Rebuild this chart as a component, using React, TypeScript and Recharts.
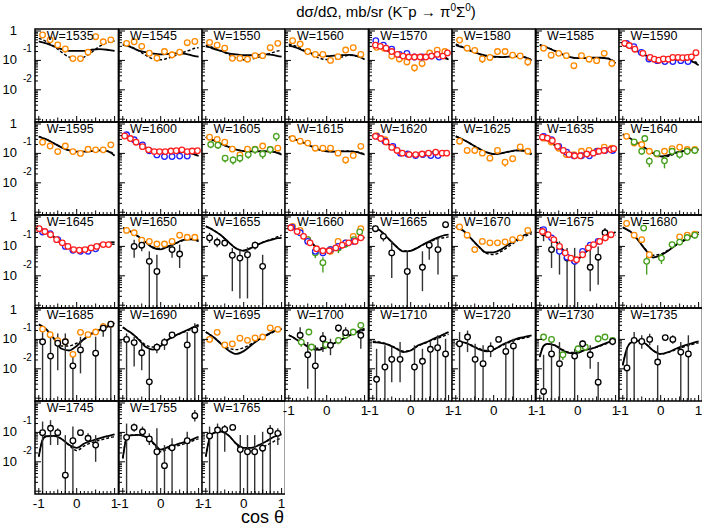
import React from "react";
import { ComposedChart, Line, Scatter, ErrorBar, XAxis, YAxis, ReferenceArea } from "recharts";

const energies = [
  1535, 1545, 1550, 1560, 1570, 1580, 1585, 1590,
  1595, 1600, 1605, 1615, 1620, 1625, 1635, 1640,
  1645, 1650, 1655, 1660, 1665, 1670, 1675, 1680,
  1685, 1690, 1695, 1700, 1710, 1720, 1730, 1735,
  1745, 1755, 1765,
];

// cos(theta) nodes where the model curves were read
const curveX = [-1, -0.9, -0.8, -0.6, -0.4, -0.2, 0, 0.2, 0.4, 0.6, 0.8, 0.9, 1];

// solid model curve, one row per energy (mb/sr)
const solidCurves = [
  [0.44, 0.41, 0.38, 0.30, 0.24, 0.21, 0.21, 0.21, 0.23, 0.24, 0.23, 0.22, 0.21],
  [0.34, 0.32, 0.29, 0.22, 0.19, 0.17, 0.16, 0.166, 0.174, 0.17, 0.15, 0.14, 0.135],
  [0.30, 0.28, 0.25, 0.21, 0.174, 0.16, 0.15, 0.15, 0.155, 0.16, 0.15, 0.14, 0.135],
  [0.32, 0.30, 0.27, 0.21, 0.174, 0.15, 0.14, 0.145, 0.15, 0.155, 0.14, 0.126, 0.107],
  [0.32, 0.29, 0.26, 0.21, 0.16, 0.14, 0.135, 0.135, 0.138, 0.138, 0.13, 0.12, 0.107],
  [0.33, 0.30, 0.275, 0.21, 0.17, 0.145, 0.135, 0.13, 0.135, 0.138, 0.13, 0.118, 0.10],
  [0.33, 0.30, 0.27, 0.21, 0.16, 0.13, 0.12, 0.12, 0.123, 0.123, 0.115, 0.10, 0.08],
  [0.33, 0.30, 0.27, 0.20, 0.148, 0.118, 0.105, 0.102, 0.105, 0.105, 0.095, 0.083, 0.069],
  [0.37, 0.33, 0.30, 0.22, 0.16, 0.126, 0.115, 0.115, 0.12, 0.126, 0.12, 0.105, 0.083],
  [0.39, 0.35, 0.30, 0.22, 0.16, 0.126, 0.115, 0.112, 0.112, 0.11, 0.10, 0.091, 0.083],
  [0.355, 0.32, 0.28, 0.21, 0.166, 0.135, 0.12, 0.118, 0.118, 0.118, 0.112, 0.102, 0.091],
  [0.355, 0.32, 0.29, 0.23, 0.174, 0.135, 0.118, 0.115, 0.118, 0.118, 0.11, 0.10, 0.091],
  [0.44, 0.38, 0.32, 0.21, 0.145, 0.107, 0.095, 0.098, 0.107, 0.11, 0.107, 0.10, 0.091],
  [0.38, 0.33, 0.29, 0.21, 0.148, 0.11, 0.095, 0.10, 0.115, 0.126, 0.123, 0.11, 0.091],
  [0.38, 0.33, 0.28, 0.19, 0.135, 0.095, 0.079, 0.083, 0.095, 0.112, 0.12, 0.118, 0.118],
  [0.44, 0.38, 0.32, 0.22, 0.15, 0.105, 0.079, 0.087, 0.107, 0.12, 0.13, 0.135, 0.135],
  [0.45, 0.38, 0.32, 0.21, 0.138, 0.093, 0.076, 0.083, 0.10, 0.118, 0.13, 0.138, 0.14],
  [0.43, 0.38, 0.32, 0.22, 0.14, 0.089, 0.079, 0.10, 0.13, 0.166, 0.174, 0.166, 0.148],
  [0.48, 0.42, 0.355, 0.24, 0.14, 0.085, 0.071, 0.089, 0.12, 0.15, 0.178, 0.19, 0.195],
  [0.48, 0.42, 0.355, 0.22, 0.13, 0.083, 0.078, 0.093, 0.112, 0.135, 0.166, 0.186, 0.204],
  [0.48, 0.42, 0.34, 0.19, 0.105, 0.068, 0.071, 0.093, 0.13, 0.174, 0.22, 0.24, 0.25],
  [0.48, 0.42, 0.34, 0.186, 0.10, 0.063, 0.063, 0.079, 0.118, 0.166, 0.24, 0.275, 0.31],
  [0.43, 0.37, 0.30, 0.16, 0.079, 0.042, 0.038, 0.063, 0.107, 0.16, 0.224, 0.26, 0.31],
  [0.45, 0.38, 0.32, 0.166, 0.076, 0.042, 0.05, 0.071, 0.112, 0.16, 0.224, 0.26, 0.31],
  [0.33, 0.275, 0.22, 0.105, 0.048, 0.042, 0.06, 0.105, 0.16, 0.21, 0.28, 0.32, 0.355],
  [0.26, 0.21, 0.174, 0.105, 0.056, 0.045, 0.06, 0.10, 0.138, 0.18, 0.24, 0.275, 0.31],
  [0.178, 0.148, 0.12, 0.071, 0.042, 0.032, 0.04, 0.063, 0.10, 0.14, 0.19, 0.21, 0.234],
  [0.138, 0.12, 0.10, 0.068, 0.048, 0.044, 0.056, 0.074, 0.10, 0.138, 0.18, 0.21, 0.234],
  [0.081, 0.079, 0.076, 0.066, 0.05, 0.037, 0.042, 0.063, 0.079, 0.105, 0.135, 0.155, 0.178],
  [0.066, 0.079, 0.079, 0.063, 0.047, 0.039, 0.045, 0.063, 0.083, 0.105, 0.12, 0.13, 0.138],
  [0.025, 0.06, 0.071, 0.063, 0.043, 0.034, 0.035, 0.044, 0.05, 0.063, 0.079, 0.089, 0.10],
  [0.013, 0.045, 0.076, 0.091, 0.071, 0.042, 0.032, 0.037, 0.048, 0.06, 0.072, 0.079, 0.085],
  [0.015, 0.056, 0.074, 0.076, 0.06, 0.038, 0.03, 0.042, 0.052, 0.063, 0.074, 0.079, 0.085],
  [0.013, 0.063, 0.079, 0.083, 0.071, 0.045, 0.026, 0.032, 0.038, 0.046, 0.055, 0.063, 0.071],
  [0.015, 0.063, 0.095, 0.107, 0.079, 0.042, 0.03, 0.03, 0.037, 0.05, 0.071, 0.079, 0.085],
];

// dashed model curve
const dashedCurves = [
  [0.56, 0.50, 0.44, 0.30, 0.19, 0.13, 0.11, 0.13, 0.19, 0.30, 0.40, 0.43, 0.46],
  [0.36, 0.33, 0.30, 0.22, 0.15, 0.112, 0.105, 0.12, 0.148, 0.19, 0.23, 0.26, 0.27],
  [0.33, 0.30, 0.27, 0.21, 0.16, 0.12, 0.105, 0.11, 0.13, 0.16, 0.19, 0.21, 0.22],
  [0.36, 0.33, 0.30, 0.22, 0.16, 0.12, 0.107, 0.112, 0.13, 0.15, 0.14, 0.13, 0.126],
  [0.355, 0.32, 0.28, 0.21, 0.16, 0.13, 0.126, 0.129, 0.135, 0.138, 0.135, 0.126, 0.112],
  [0.355, 0.32, 0.28, 0.21, 0.165, 0.14, 0.13, 0.13, 0.135, 0.138, 0.13, 0.12, 0.105],
  [0.34, 0.31, 0.275, 0.21, 0.16, 0.13, 0.12, 0.12, 0.123, 0.123, 0.118, 0.105, 0.089],
  [0.34, 0.31, 0.28, 0.20, 0.15, 0.118, 0.105, 0.102, 0.105, 0.107, 0.10, 0.09, 0.076],
  [0.38, 0.34, 0.30, 0.22, 0.16, 0.125, 0.115, 0.115, 0.12, 0.126, 0.122, 0.11, 0.09],
  [0.40, 0.36, 0.31, 0.22, 0.16, 0.126, 0.115, 0.112, 0.112, 0.11, 0.102, 0.095, 0.088],
  [0.36, 0.32, 0.28, 0.21, 0.165, 0.135, 0.12, 0.118, 0.118, 0.118, 0.114, 0.106, 0.095],
  [0.36, 0.33, 0.29, 0.23, 0.174, 0.135, 0.118, 0.115, 0.118, 0.12, 0.113, 0.105, 0.096],
  [0.45, 0.39, 0.32, 0.21, 0.145, 0.107, 0.095, 0.097, 0.105, 0.11, 0.11, 0.105, 0.097],
  [0.39, 0.34, 0.29, 0.21, 0.148, 0.11, 0.095, 0.10, 0.114, 0.125, 0.125, 0.115, 0.098],
  [0.39, 0.34, 0.29, 0.19, 0.135, 0.095, 0.08, 0.084, 0.097, 0.112, 0.12, 0.12, 0.12],
  [0.45, 0.39, 0.32, 0.22, 0.15, 0.10, 0.076, 0.08, 0.10, 0.118, 0.13, 0.135, 0.138],
  [0.45, 0.38, 0.32, 0.21, 0.138, 0.093, 0.076, 0.082, 0.097, 0.112, 0.12, 0.12, 0.118],
  [0.42, 0.37, 0.32, 0.22, 0.14, 0.095, 0.085, 0.098, 0.125, 0.16, 0.18, 0.18, 0.17],
  [0.49, 0.43, 0.36, 0.24, 0.14, 0.087, 0.074, 0.09, 0.12, 0.155, 0.19, 0.215, 0.24],
  [0.48, 0.42, 0.355, 0.22, 0.13, 0.085, 0.08, 0.093, 0.11, 0.13, 0.158, 0.175, 0.19],
  [0.47, 0.41, 0.34, 0.19, 0.105, 0.07, 0.072, 0.092, 0.125, 0.16, 0.19, 0.20, 0.21],
  [0.45, 0.40, 0.33, 0.186, 0.10, 0.058, 0.053, 0.068, 0.10, 0.15, 0.21, 0.24, 0.27],
  [0.43, 0.37, 0.30, 0.16, 0.079, 0.042, 0.04, 0.063, 0.10, 0.15, 0.20, 0.22, 0.24],
  [0.44, 0.37, 0.31, 0.16, 0.08, 0.05, 0.055, 0.075, 0.11, 0.15, 0.20, 0.23, 0.26],
  [0.31, 0.26, 0.21, 0.11, 0.06, 0.06, 0.074, 0.10, 0.15, 0.20, 0.26, 0.29, 0.32],
  [0.25, 0.21, 0.17, 0.11, 0.065, 0.055, 0.07, 0.10, 0.135, 0.175, 0.22, 0.25, 0.28],
  [0.178, 0.148, 0.12, 0.074, 0.05, 0.045, 0.052, 0.07, 0.10, 0.135, 0.18, 0.20, 0.22],
  [0.14, 0.12, 0.10, 0.07, 0.052, 0.05, 0.06, 0.076, 0.10, 0.135, 0.17, 0.19, 0.21],
  [0.087, 0.084, 0.08, 0.068, 0.052, 0.04, 0.043, 0.06, 0.076, 0.097, 0.12, 0.135, 0.15],
  [0.07, 0.08, 0.079, 0.065, 0.05, 0.042, 0.046, 0.06, 0.078, 0.097, 0.11, 0.118, 0.125],
  [0.028, 0.06, 0.07, 0.063, 0.045, 0.036, 0.037, 0.045, 0.05, 0.06, 0.075, 0.085, 0.095],
  [0.014, 0.045, 0.075, 0.09, 0.07, 0.042, 0.032, 0.036, 0.045, 0.055, 0.066, 0.072, 0.076],
  [0.015, 0.056, 0.074, 0.076, 0.06, 0.036, 0.024, 0.035, 0.045, 0.054, 0.063, 0.068, 0.071],
  [0.013, 0.063, 0.079, 0.083, 0.07, 0.042, 0.022, 0.028, 0.034, 0.04, 0.048, 0.055, 0.06],
  [0.015, 0.063, 0.095, 0.107, 0.079, 0.04, 0.022, 0.023, 0.028, 0.036, 0.05, 0.058, 0.066],
];

// measured points: [cos, dsigma, error]
const orangePts: Record<number, number[][]> = {
  1535: [[-0.9, 0.73, 0.08], [-0.7, 0.5, 0.1], [-0.5, 0.335, 0.05], [-0.3, 0.245, 0.06], [-0.1, 0.115, 0.015], [0.1, 0.115, 0.015], [0.3, 0.19, 0.04], [0.5, 0.64, 0.06], [0.7, 0.43, 0.08], [0.9, 0.5, 0.08]],
  1545: [[-0.9, 0.38, 0.04], [-0.7, 0.43, 0.05], [-0.5, 0.3, 0.04], [-0.3, 0.175, 0.025], [-0.1, 0.12, 0.03], [0.1, 0.2, 0.025], [0.3, 0.155, 0.04], [0.5, 0.19, 0.04], [0.7, 0.4, 0.04], [0.9, 0.44, 0.05]],
  1550: [[-0.9, 0.41, 0.04], [-0.7, 0.33, 0.035], [-0.5, 0.26, 0.03], [-0.3, 0.118, 0.015], [-0.1, 0.118, 0.02], [0.1, 0.11, 0.02], [0.3, 0.145, 0.03], [0.5, 0.145, 0.03], [0.7, 0.27, 0.03], [0.9, 0.38, 0.04]],
  1560: [[-0.9, 0.47, 0.05], [-0.7, 0.36, 0.04], [-0.5, 0.2, 0.025], [-0.3, 0.16, 0.02], [-0.1, 0.16, 0.02], [0.1, 0.1, 0.02], [0.3, 0.134, 0.025], [0.5, 0.225, 0.03], [0.7, 0.27, 0.04], [0.9, 0.16, 0.03]],
  1570: [[-0.9, 0.28, 0.04], [-0.7, 0.26, 0.04], [-0.5, 0.14, 0.03], [-0.3, 0.112, 0.025], [-0.1, 0.089, 0.02], [0.1, 0.056, 0.015], [0.3, 0.079, 0.02], [0.5, 0.178, 0.03], [0.7, 0.224, 0.04], [0.9, 0.2, 0.04]],
  1580: [[-0.9, 0.49, 0.04], [-0.7, 0.26, 0.03], [-0.5, 0.22, 0.03], [-0.3, 0.112, 0.03], [-0.1, 0.126, 0.025], [0.1, 0.2, 0.025], [0.3, 0.2, 0.025], [0.5, 0.15, 0.025], [0.7, 0.141, 0.025], [0.9, 0.089, 0.025]],
  1585: [[-0.9, 0.26, 0.025], [-0.7, 0.15, 0.02], [-0.5, 0.174, 0.02], [-0.3, 0.145, 0.02], [-0.1, 0.066, 0.015], [0.1, 0.145, 0.02], [0.3, 0.11, 0.02], [0.5, 0.098, 0.02], [0.7, 0.174, 0.025], [0.9, 0.079, 0.02]],
  1595: [[-0.9, 0.24, 0.03], [-0.7, 0.178, 0.025], [-0.5, 0.115, 0.025], [-0.3, 0.178, 0.025], [-0.1, 0.115, 0.02], [0.1, 0.1, 0.02], [0.3, 0.138, 0.02], [0.5, 0.132, 0.02], [0.7, 0.132, 0.02], [0.9, 0.195, 0.025]],
  1605: [[-0.9, 0.355, 0.04], [-0.7, 0.3, 0.035], [-0.5, 0.24, 0.03], [-0.3, 0.14, 0.025], [-0.1, 0.089, 0.02], [0.1, 0.14, 0.025], [0.3, 0.14, 0.025], [0.5, 0.178, 0.03], [0.7, 0.135, 0.025], [0.9, 0.15, 0.03]],
  1615: [[-0.9, 0.32, 0.03], [-0.7, 0.26, 0.025], [-0.5, 0.224, 0.02], [-0.3, 0.15, 0.02], [-0.1, 0.15, 0.02], [0.1, 0.15, 0.02], [0.3, 0.102, 0.015], [0.5, 0.06, 0.015], [0.7, 0.085, 0.015], [0.9, 0.174, 0.02]],
  1620: [[-0.9, 0.4, 0.03], [-0.68, 0.29, 0.03]],
  1625: [[-0.9, 0.26, 0.03], [-0.7, 0.126, 0.02], [-0.5, 0.126, 0.02], [-0.3, 0.102, 0.02], [-0.1, 0.069, 0.015], [0.1, 0.126, 0.02], [0.3, 0.05, 0.015], [0.5, 0.066, 0.015], [0.7, 0.166, 0.025], [0.9, 0.118, 0.02]],
  1635: [[-0.9, 0.33, 0.03], [-0.7, 0.245, 0.025], [-0.5, 0.15, 0.02], [-0.3, 0.091, 0.015], [-0.1, 0.091, 0.015], [0.1, 0.118, 0.02], [0.3, 0.126, 0.02], [0.5, 0.118, 0.02], [0.7, 0.162, 0.03], [0.9, 0.15, 0.04]],
  1640: [[-0.9, 0.38, 0.03], [-0.7, 0.224, 0.025], [-0.5, 0.2, 0.025], [-0.3, 0.118, 0.02], [-0.1, 0.095, 0.02], [0.1, 0.118, 0.02], [0.3, 0.145, 0.02], [0.5, 0.162, 0.025], [0.7, 0.135, 0.02], [0.9, 0.135, 0.025]],
  1650: [[-0.9, 0.35, 0.04], [-0.7, 0.29, 0.03], [-0.5, 0.162, 0.02], [-0.3, 0.148, 0.02], [-0.1, 0.12, 0.015], [0.1, 0.12, 0.015], [0.3, 0.148, 0.02], [0.5, 0.24, 0.03], [0.7, 0.204, 0.025], [0.9, 0.204, 0.03]],
  1660: [[-0.9, 0.48, 0.04], [-0.7, 0.35, 0.03], [-0.5, 0.17, 0.02], [-0.3, 0.068, 0.01], [-0.1, 0.065, 0.01], [0.1, 0.068, 0.01], [0.3, 0.148, 0.02], [0.5, 0.132, 0.02], [0.7, 0.22, 0.03], [0.9, 0.4, 0.05]],
  1670: [[-0.9, 0.46, 0.04], [-0.7, 0.24, 0.03], [-0.5, 0.078, 0.015], [-0.3, 0.148, 0.02], [-0.1, 0.132, 0.02], [0.1, 0.132, 0.02], [0.3, 0.141, 0.02], [0.5, 0.17, 0.02], [0.7, 0.195, 0.025], [0.9, 0.35, 0.04]],
  1680: [[-0.9, 0.6, 0.05], [-0.7, 0.24, 0.03], [-0.5, 0.17, 0.025], [-0.3, 0.052, 0.012], [0.5, 0.21, 0.03], [0.7, 0.24, 0.03], [0.9, 0.26, 0.035]],
  1685: [[-0.9, 0.224, 0.03], [-0.7, 0.145, 0.02], [-0.5, 0.091, 0.015], [-0.3, 0.083, 0.015], [-0.1, 0.031, 0.008], [0.1, 0.174, 0.02], [0.3, 0.145, 0.02], [0.5, 0.178, 0.02], [0.7, 0.27, 0.03], [0.9, 0.33, 0.04]],
  1695: [[-0.9, 0.1, 0.02], [-0.7, 0.174, 0.025], [-0.5, 0.065, 0.012], [-0.3, 0.07, 0.012], [-0.1, 0.11, 0.018], [0.1, 0.093, 0.015], [0.3, 0.112, 0.018], [0.5, 0.12, 0.02], [0.7, 0.245, 0.03], [0.9, 0.22, 0.03]],
};

const bluePts: Record<number, number[][]> = {
  1570: [[-0.92, 0.47, 0.04], [-0.72, 0.33, 0.03], [-0.5, 0.24, 0.02], [-0.3, 0.16, 0.015], [-0.1, 0.174, 0.015], [0.1, 0.13, 0.012], [0.3, 0.13, 0.012], [0.55, 0.14, 0.015], [0.75, 0.13, 0.015]],
  1590: [[-0.9, 0.38, 0.03], [-0.71, 0.295, 0.02], [-0.51, 0.186, 0.015], [-0.31, 0.112, 0.01], [-0.09, 0.098, 0.01], [0.11, 0.091, 0.01], [0.32, 0.091, 0.01], [0.53, 0.098, 0.01], [0.72, 0.091, 0.015]],
  1600: [[-0.9, 0.43, 0.03], [-0.7, 0.29, 0.02], [-0.48, 0.195, 0.015], [-0.3, 0.123, 0.01], [-0.1, 0.089, 0.008], [0.1, 0.078, 0.008], [0.3, 0.078, 0.008], [0.5, 0.081, 0.008], [0.7, 0.081, 0.01]],
  1620: [[-0.9, 0.38, 0.03], [-0.68, 0.26, 0.02], [-0.47, 0.174, 0.015], [-0.27, 0.102, 0.01], [-0.08, 0.095, 0.01], [0.13, 0.085, 0.01], [0.32, 0.091, 0.01], [0.53, 0.085, 0.01], [0.72, 0.085, 0.01]],
  1635: [[-0.9, 0.38, 0.03], [-0.69, 0.295, 0.025], [-0.5, 0.174, 0.015], [-0.29, 0.11, 0.01], [-0.1, 0.083, 0.01], [0.1, 0.083, 0.01], [0.31, 0.083, 0.01], [0.52, 0.118, 0.012], [0.72, 0.126, 0.012], [0.92, 0.126, 0.015]],
  1645: [[-0.9, 0.31, 0.025], [-0.7, 0.27, 0.02], [-0.5, 0.17, 0.015], [-0.3, 0.1, 0.01], [-0.1, 0.074, 0.008], [0.1, 0.068, 0.008], [0.3, 0.068, 0.008], [0.5, 0.083, 0.01]],
  1660: [[-0.92, 0.45, 0.03], [-0.7, 0.29, 0.02], [-0.5, 0.148, 0.015], [-0.3, 0.068, 0.008], [-0.1, 0.06, 0.008], [0.1, 0.078, 0.008], [0.31, 0.1, 0.01], [0.5, 0.132, 0.012], [0.72, 0.148, 0.015]],
  1675: [[-0.9, 0.37, 0.03], [-0.69, 0.195, 0.02], [-0.48, 0.068, 0.008], [-0.28, 0.043, 0.006], [-0.08, 0.031, 0.005], [0.13, 0.068, 0.008], [0.33, 0.11, 0.01], [0.54, 0.148, 0.015]],
};

const redPts: Record<number, number[][]> = {
  1570: [[-0.93, 0.33, 0.03], [-0.8, 0.3, 0.03], [-0.65, 0.26, 0.025], [-0.5, 0.2, 0.02], [-0.35, 0.16, 0.015], [-0.2, 0.14, 0.015], [-0.05, 0.13, 0.015], [0.1, 0.13, 0.015], [0.25, 0.13, 0.015], [0.4, 0.13, 0.015], [0.55, 0.14, 0.015], [0.7, 0.16, 0.02], [0.85, 0.14, 0.02], [0.97, 0.18, 0.04]],
  1590: [[-0.95, 0.38, 0.02], [-0.83, 0.32, 0.02], [-0.68, 0.24, 0.015], [-0.47, 0.174, 0.012], [-0.28, 0.126, 0.01], [-0.17, 0.11, 0.01], [-0.05, 0.102, 0.01], [0.07, 0.112, 0.01], [0.2, 0.11, 0.01], [0.32, 0.126, 0.01], [0.46, 0.126, 0.01], [0.58, 0.123, 0.01], [0.7, 0.126, 0.01], [0.81, 0.132, 0.012], [0.93, 0.182, 0.03]],
  1600: [[-0.95, 0.39, 0.02], [-0.8, 0.32, 0.02], [-0.65, 0.24, 0.015], [-0.48, 0.17, 0.012], [-0.32, 0.132, 0.01], [-0.17, 0.115, 0.01], [-0.03, 0.115, 0.01], [0.12, 0.115, 0.01], [0.27, 0.12, 0.01], [0.41, 0.123, 0.01], [0.56, 0.132, 0.01], [0.7, 0.115, 0.01], [0.83, 0.12, 0.012], [0.97, 0.123, 0.015]],
  1620: [[-0.93, 0.38, 0.02], [-0.79, 0.32, 0.02], [-0.65, 0.245, 0.015], [-0.5, 0.16, 0.012], [-0.36, 0.126, 0.01], [-0.22, 0.102, 0.01], [-0.04, 0.091, 0.01], [0.13, 0.091, 0.01], [0.3, 0.095, 0.01], [0.47, 0.102, 0.01], [0.66, 0.11, 0.01], [0.83, 0.102, 0.012], [0.95, 0.102, 0.02]],
  1635: [[-0.93, 0.355, 0.02], [-0.8, 0.33, 0.02], [-0.67, 0.27, 0.02], [-0.53, 0.174, 0.015], [-0.38, 0.126, 0.01], [-0.23, 0.091, 0.01], [-0.08, 0.083, 0.01], [0.07, 0.083, 0.01], [0.24, 0.095, 0.01], [0.41, 0.102, 0.01], [0.56, 0.118, 0.012], [0.7, 0.126, 0.012], [0.87, 0.135, 0.02], [0.95, 0.145, 0.03]],
  1645: [[-0.99, 0.4, 0.03], [-0.84, 0.32, 0.02], [-0.69, 0.25, 0.02], [-0.53, 0.17, 0.015], [-0.38, 0.132, 0.012], [-0.23, 0.1, 0.01], [-0.08, 0.078, 0.008], [0.07, 0.074, 0.008], [0.22, 0.078, 0.008], [0.38, 0.089, 0.01], [0.53, 0.1, 0.01], [0.7, 0.115, 0.012], [0.84, 0.115, 0.012]],
  1660: [[-0.95, 0.43, 0.03], [-0.78, 0.32, 0.02], [-0.61, 0.22, 0.02], [-0.44, 0.132, 0.012], [-0.27, 0.083, 0.01], [-0.1, 0.071, 0.008], [0.07, 0.071, 0.008], [0.24, 0.089, 0.01], [0.41, 0.11, 0.01], [0.58, 0.132, 0.012], [0.75, 0.148, 0.015], [0.9, 0.195, 0.02]],
  1675: [[-0.93, 0.32, 0.03], [-0.78, 0.25, 0.02], [-0.63, 0.17, 0.015], [-0.48, 0.1, 0.01], [-0.33, 0.06, 0.008], [-0.18, 0.04, 0.006], [-0.03, 0.035, 0.005], [0.13, 0.052, 0.007], [0.28, 0.089, 0.01], [0.42, 0.115, 0.012], [0.58, 0.148, 0.015], [0.73, 0.195, 0.02], [0.88, 0.25, 0.03]],
};

const greenPts: Record<number, number[][]> = {
  1605: [[-0.87, 0.2, 0.05], [-0.68, 0.19, 0.05], [-0.49, 0.069, 0.02], [-0.28, 0.06, 0.018], [-0.1, 0.069, 0.02], [0.12, 0.091, 0.025], [0.3, 0.135, 0.04], [0.5, 0.095, 0.03], [0.7, 0.135, 0.04], [0.86, 0.38, 0.12]],
  1640: [[-0.7, 0.245, 0.05], [-0.5, 0.118, 0.03], [-0.42, 0.32, 0.06], [-0.3, 0.054, 0.02], [-0.1, 0.1, 0.025], [0.1, 0.056, 0.025], [0.3, 0.118, 0.03], [0.5, 0.091, 0.025], [0.7, 0.118, 0.03], [0.9, 0.126, 0.03]],
  1660: [[-0.5, 0.17, 0.04], [-0.3, 0.06, 0.02], [-0.1, 0.028, 0.015], [0.1, 0.078, 0.025], [0.31, 0.089, 0.03], [0.5, 0.12, 0.03], [0.72, 0.17, 0.04], [0.87, 0.31, 0.08]],
  1680: [[-0.45, 0.42, 0.08], [-0.37, 0.031, 0.02], [0.02, 0.04, 0.015], [0.3, 0.115, 0.03], [0.5, 0.14, 0.03], [0.7, 0.2, 0.04], [0.9, 0.24, 0.05]],
  1700: [[-0.67, 0.081, 0.025], [-0.47, 0.178, 0.04], [-0.4, 0.055, 0.015], [-0.02, 0.066, 0.02], [0.31, 0.093, 0.025], [0.5, 0.138, 0.03], [0.7, 0.178, 0.04], [0.9, 0.3, 0.06]],
  1730: [[-0.9, 0.12, 0.03], [-0.69, 0.1, 0.025], [-0.39, 0.03, 0.01], [0.01, 0.048, 0.012], [0.2, 0.055, 0.015], [0.54, 0.105, 0.025], [0.72, 0.12, 0.025], [0.92, 0.093, 0.02]],
};

// black points: [cos, dsigma, lower end, upper end]; lower end 0 = runs off the bottom
const blackPts: Record<number, number[][]> = {
  1650: [[-0.7, 0.1, 0.041, 0.17], [-0.5, 0.11, 0.068, 0.17], [-0.3, 0.031, 0, 0.068], [-0.1, 0.014, 0, 0.052], [0.3, 0.078, 0.041, 0.13], [0.5, 0.055, 0.0185, 0.115]],
  1655: [[-0.9, 0.195, 0.13, 0.29], [-0.7, 0.138, 0.093, 0.2], [-0.5, 0.13, 0.11, 0.17], [-0.3, 0.05, 0.003, 0.089], [-0.1, 0.04, 0.0017, 0.078], [0.1, 0.052, 0.0017, 0.093], [0.3, 0.11, 0.078, 0.148], [0.5, 0.021, 0.00105, 0.052]],
  1665: [[-0.93, 0.4, 0.31, 0.52], [-0.72, 0.22, 0.148, 0.31], [-0.5, 0.06, 0.0085, 0.148], [-0.09, 0.014, 0, 0.068], [0.31, 0.0195, 0.003, 0.068], [0.49, 0.11, 0.035, 0.148], [0.72, 0.078, 0.011, 0.17], [0.92, 0.55, 0.42, 0.71]],
  1675: [[-0.9, 0.29, 0.15, 0.42], [-0.69, 0.078, 0.0185, 0.17], [-0.48, 0.071, 0.011, 0.148], [-0.28, 0.04, 0, 0.089], [-0.08, 0.032, 0, 0.089], [0.33, 0.0195, 0.003, 0.089], [0.54, 0.043, 0.005, 0.1], [0.72, 0.29, 0.15, 0.42]],
  1685: [[-0.9, 0.083, 0, 0.18], [-0.69, 0.027, 0, 0.18], [-0.5, 0.074, 0.009, 0.16], [-0.3, 0.083, 0, 0.16], [-0.1, 0.0126, 0, 0.034], [0.1, 0.044, 0.007, 0.123], [0.5, 0.034, 0, 0.123], [0.7, 0.24, 0.123, 0.355], [0.9, 0.33, 0, 0.4]],
  1690: [[-0.9, 0.1, 0, 0.16], [-0.7, 0.078, 0.012, 0.123], [-0.5, 0.035, 0.009, 0.074], [-0.3, 0.0036, 0, 0.044], [-0.1, 0.054, 0.034, 0.074], [0.1, 0.079, 0.044, 0.11], [0.3, 0.141, 0.11, 0.18], [0.7, 0.065, 0, 0.18], [0.9, 0.21, 0, 0.355]],
  1700: [[-0.7, 0.138, 0.071, 0.26], [-0.5, 0.03, 0.0021, 0.081], [-0.3, 0.0126, 0, 0.063], [-0.1, 0.105, 0.037, 0.178], [0.1, 0.063, 0.029, 0.105], [0.31, 0.245, 0.178, 0.32], [0.5, 0.17, 0.105, 0.26], [0.9, 0.138, 0.048, 0.3]],
  1710: [[-0.9, 0.0044, 0, 0.048], [-0.68, 0.0115, 0, 0.063], [-0.5, 0.021, 0.0035, 0.055], [-0.28, 0.021, 0.0035, 0.081], [0.1, 0.0115, 0, 0.063], [0.31, 0.018, 0, 0.048], [0.52, 0.046, 0, 0.081], [0.71, 0.052, 0, 0.138], [0.92, 0.032, 0, 0.105]],
  1720: [[-0.9, 0.071, 0, 0.178], [-0.69, 0.12, 0.037, 0.2], [-0.49, 0.021, 0, 0.071], [-0.28, 0.015, 0, 0.063], [-0.08, 0.048, 0.025, 0.08], [0.13, 0.1, 0.081, 0.12], [0.32, 0.039, 0, 0.081], [0.52, 0.06, 0, 0.105]],
  1730: [[-0.9, 0.0017, 0, 0.03], [-0.69, 0.032, 0, 0.105], [-0.48, 0.015, 0, 0.081], [-0.08, 0.027, 0, 0.048], [0.13, 0.071, 0.048, 0.093], [0.33, 0.03, 0.01, 0.063], [0.54, 0.0035, 0, 0.017], [0.92, 0.085, 0.063, 0.12]],
  1735: [[-0.89, 0.0107, 0, 0.048], [-0.7, 0.093, 0, 0.178], [-0.5, 0.085, 0.048, 0.138], [-0.29, 0.1, 0.063, 0.155], [-0.08, 0.017, 0, 0.063], [0.12, 0.115, 0.093, 0.138], [0.32, 0.1, 0.071, 0.138], [0.53, 0.037, 0, 0.081], [0.73, 0.032, 0, 0.138]],
  1745: [[-0.9, 0.098, 0, 0.234], [-0.69, 0.138, 0.037, 0.26], [-0.5, 0.098, 0.037, 0.138], [-0.3, 0.0035, 0, 0.081], [-0.1, 0.052, 0, 0.158], [0.1, 0.098, 0.081, 0.12], [0.3, 0.063, 0.043, 0.093], [0.5, 0.037, 0.01, 0.081]],
  1755: [[-0.9, 0.068, 0, 0.2], [-0.7, 0.148, 0.105, 0.2], [-0.48, 0.105, 0.071, 0.158], [-0.3, 0.06, 0.037, 0.093], [-0.1, 0.022, 0, 0.138], [0.1, 0.0074, 0, 0.037], [0.3, 0.03, 0, 0.063], [0.7, 0.052, 0, 0.105], [0.9, 0.37, 0.234, 0.58]],
  1765: [[-0.9, 0.076, 0, 0.158], [-0.69, 0.12, 0, 0.2], [-0.5, 0.126, 0.022, 0.178], [-0.29, 0.148, 0.12, 0.178], [-0.09, 0.026, 0, 0.081], [0.1, 0.022, 0, 0.081], [0.29, 0.022, 0, 0.081], [0.5, 0.029, 0, 0.105], [0.7, 0.112, 0, 0.178], [0.9, 0.093, 0.037, 0.138]],
};

const xTicks = [-1, -0.9, -0.8, -0.7, -0.6, -0.5, -0.4, -0.3, -0.2, -0.1, 0, 0.1, 0.2, 0.3, 0.4, 0.5, 0.6, 0.7, 0.8, 0.9, 1];
const yTicks = [
  0.001, 0.002, 0.003, 0.004, 0.005, 0.006, 0.007, 0.008, 0.009,
  0.01, 0.02, 0.03, 0.04, 0.05, 0.06, 0.07, 0.08, 0.09,
  0.1, 0.2, 0.3, 0.4, 0.5, 0.6, 0.7, 0.8, 0.9, 1,
];

const Y_MIN = 0.000804;
const Y_MAX = 1.169;
const X_MIN = -1.1;
const X_MAX = 1.1;

const LEFT0 = 35.2;
const TOP0 = 29;
const PW = 83.4;
const PH = 93;
const AXW = 34;
const AXH = 22;
const PAD_TOP = 10;

const FONT = "'Liberation Sans', Arial, Helvetica, sans-serif";
const ORANGE = "#ff8a00";
const BLUE = "#1f1fff";
const RED = "#ff1f1f";
const GREEN = "#48a01e";

function toColored(pts: number[][]) {
  return pts.map(([x, y, e]) => ({ x, y, err: [Math.min(e, y - Y_MIN), e] }));
}

function toBlack(pts: number[][]) {
  return pts.map(([x, y, lo, hi]) => ({ x, y, err: [y - (lo > 0 ? lo : Y_MIN), hi - y] }));
}

function renderXTick(p: any, labeled: boolean) {
  const v = p.payload.value;
  const major = Math.abs(v - Math.round(v)) < 1e-6;
  const half = Math.abs(Math.abs(v) - 0.5) < 1e-6;
  const len = major ? 6 : half ? 4.5 : 3;
  return (
    <g>
      <line x1={p.x} x2={p.x} y1={p.y} y2={p.y - len} stroke="#000" strokeWidth={1} />
      {labeled && major && (
        <text x={p.x} y={p.y + 14} textAnchor="middle" fontSize={13.5} fontFamily={FONT} fill="#000">
          {String(Math.round(v))}
        </text>
      )}
    </g>
  );
}

function renderYTick(p: any, labeled: boolean, showOne: boolean) {
  const v = p.payload.value;
  const lg = Math.log10(v);
  const major = Math.abs(lg - Math.round(lg)) < 1e-6;
  const e = Math.round(lg);
  const len = major ? 6 : 3;
  return (
    <g>
      <line x1={p.x} x2={p.x + len} y1={p.y} y2={p.y} stroke="#000" strokeWidth={1} />
      {labeled && major && e === 0 && showOne && (
        <text x={p.x - 18} y={p.y + 4.5} textAnchor="end" fontSize={13} fontFamily={FONT} fill="#000">1</text>
      )}
      {labeled && major && (e === -1 || e === -2) && (
        <g>
          <text x={p.x - 18} y={p.y + 4} textAnchor="end" fontSize={13} fontFamily={FONT} fill="#000">10</text>
          <text x={p.x - 12} y={p.y - 8} textAnchor="start" fontSize={10} fontFamily={FONT} fill="#000">{`-${-e}`}</text>
        </g>
      )}
    </g>
  );
}

function Panel({ k }: { k: number }) {
  const w = energies[k];
  const row = Math.floor(k / 8);
  const col = k % 8;
  const showY = col === 0;
  const showOne = row < 4;
  const showX = row === 4 || (row === 3 && col >= 3);
  const solid = curveX.map((x, i) => ({ x, y: solidCurves[k][i] }));
  const dashed = curveX.map((x, i) => ({ x, y: dashedCurves[k][i] }));

  const series = [
    { name: "orange", data: orangePts[w] ? toColored(orangePts[w]) : null, color: ORANGE, bar: ORANGE },
    { name: "green", data: greenPts[w] ? toColored(greenPts[w]) : null, color: GREEN, bar: GREEN },
    { name: "black", data: blackPts[w] ? toBlack(blackPts[w]) : null, color: "#000", bar: "#333" },
    { name: "blue", data: bluePts[w] ? toColored(bluePts[w]) : null, color: BLUE, bar: BLUE },
    { name: "red", data: redPts[w] ? toColored(redPts[w]) : null, color: RED, bar: RED },
  ].filter((s) => s.data);

  return (
    <div style={{ position: "absolute", left: LEFT0 + col * PW - AXW, top: TOP0 + row * PH - PAD_TOP }}>
      <ComposedChart width={PW + AXW} height={PH + AXH + PAD_TOP} margin={{ top: PAD_TOP, right: 0, bottom: 0, left: 0 }}>
        <XAxis
          type="number"
          dataKey="x"
          domain={[X_MIN, X_MAX]}
          ticks={xTicks}
          interval={0}
          tickSize={0}
          tickMargin={0}
          axisLine={false}
          height={AXH}
          allowDataOverflow
          tick={(p: any) => renderXTick(p, showX)}
        />
        <YAxis
          type="number"
          dataKey="y"
          scale="log"
          domain={[Y_MIN, Y_MAX]}
          ticks={yTicks}
          interval={0}
          tickSize={0}
          tickMargin={0}
          axisLine={false}
          width={AXW}
          allowDataOverflow
          tick={(p: any) => renderYTick(p, showY, showOne)}
        />
        <Line data={dashed} dataKey="y" type="monotone" dot={false} stroke="#000" strokeWidth={1.4} strokeDasharray="3 2" isAnimationActive={false} />
        <Line data={solid} dataKey="y" type="monotone" dot={false} stroke="#000" strokeWidth={1.8} isAnimationActive={false} />
        {series.map((s) => (
          <Scatter
            key={s.name}
            data={s.data as any[]}
            isAnimationActive={false}
            shape={(sp: any) => <circle cx={sp.cx} cy={sp.cy} r={2.8} fill="#fff" stroke={s.color} strokeWidth={1.3} />}
          >
            <ErrorBar dataKey="err" direction="y" width={0} stroke={s.bar} strokeWidth={1.4} />
          </Scatter>
        ))}
        <ReferenceArea x1={X_MIN} x2={X_MAX} y1={Y_MIN} y2={Y_MAX} fill="none" stroke="#000" strokeWidth={1.5} ifOverflow="visible" />
      </ComposedChart>
    </div>
  );
}

export default function App() {
  return (
    <div style={{ position: "absolute", left: 0, top: 0, width: 706, height: 529, background: "#fff", fontFamily: FONT }}>
      {energies.map((w, k) => (
        <Panel key={w} k={k} />
      ))}
      <svg width={706} height={529} style={{ position: "absolute", left: 0, top: 0, pointerEvents: "none" }}>
        <text x={386} y={17} textAnchor="middle" fontSize={15} fontFamily={FONT} fill="#000">
          dσ/dΩ, mb/sr (K<tspan dy={-6} fontSize={10}>−</tspan>
          <tspan dy={6}>p → π</tspan>
          <tspan dy={-6} fontSize={10}>0</tspan>
          <tspan dy={6}>Σ</tspan>
          <tspan dy={-6} fontSize={10}>0</tspan>
          <tspan dy={6}>)</tspan>
        </text>
        {energies.map((w, k) => (
          <text
            key={w}
            x={LEFT0 + (k % 8) * PW + 11.5}
            y={TOP0 + Math.floor(k / 8) * PH + 11}
            fontSize={12.5}
            fontFamily={FONT}
            fill="#000"
          >
            {`W=${w}`}
          </text>
        ))}
        <text x={284} y={523} textAnchor="end" fontSize={18} fontFamily={FONT} fill="#000">cos θ</text>
      </svg>
    </div>
  );
}
